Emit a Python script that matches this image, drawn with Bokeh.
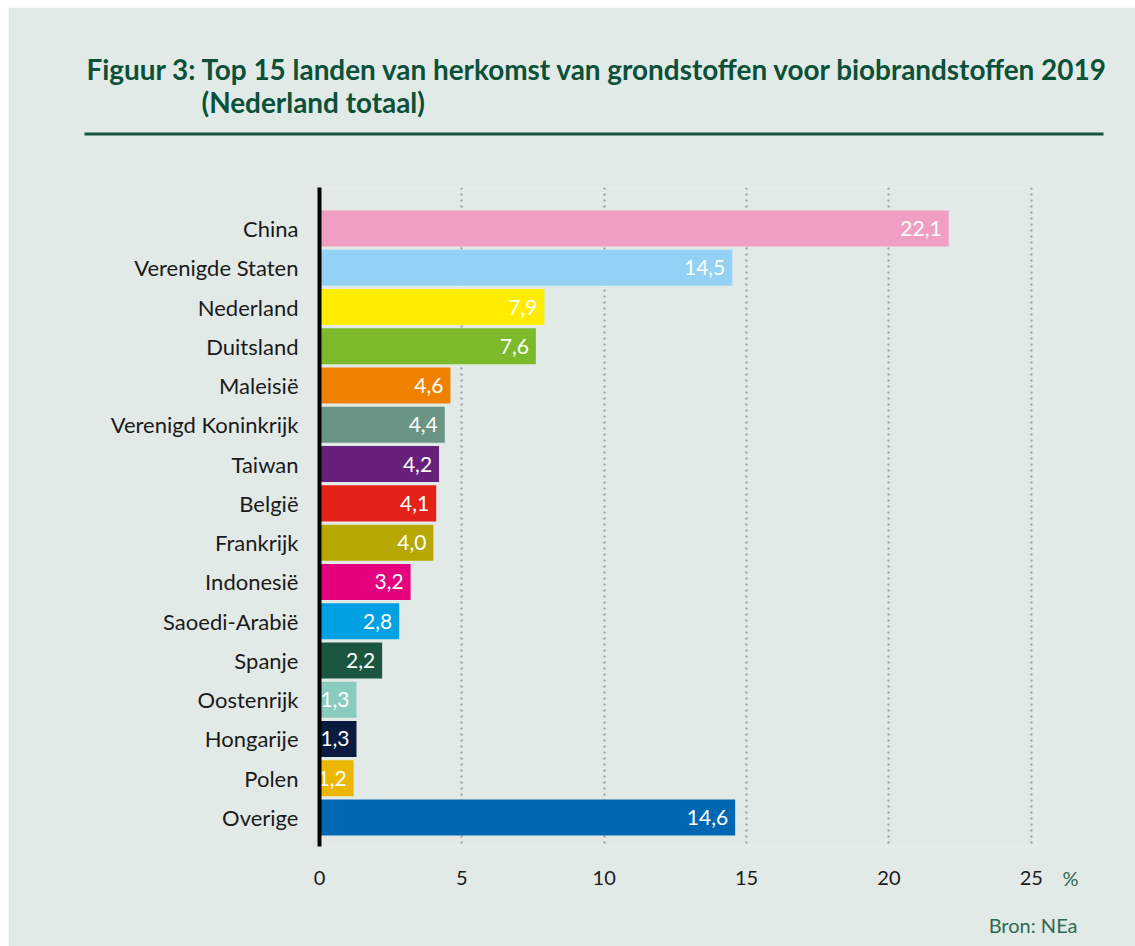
from bokeh.plotting import figure
from bokeh.models import ColumnDataSource, Range1d, FixedTicker
from bokeh.core.properties import value
from bokeh.embed import file_html
from bokeh.resources import INLINE

# ---- data ----
countries = ["China", "Verenigde Staten", "Nederland", "Duitsland", "Maleisië",
             "Verenigd Koninkrijk", "Taiwan", "België", "Frankrijk", "Indonesië",
             "Saoedi-Arabië", "Spanje", "Oostenrijk", "Hongarije", "Polen", "Overige"]
shares = [22.1, 14.5, 7.9, 7.6, 4.6, 4.4, 4.2, 4.1, 4.0, 3.2, 2.8, 2.2, 1.3, 1.3, 1.2, 14.6]
bar_colors = ["#f09ec4", "#93d2f4", "#ffed00", "#7cba2c", "#f08100", "#6a9584",
              "#68217b", "#e42218", "#b6a800", "#e5007e", "#00a0e2", "#1c5641",
              "#89cbbf", "#0a1b40", "#ecb700", "#0068b3"]
x_ticks = [0, 5, 10, 15, 20, 25]
title_lines = ["Figuur 3: Top 15 landen van herkomst van grondstoffen voor biobrandstoffen 2019",
               "(Nederland totaal)"]
unit_text = "%"
source_text = "Bron: NEa"

FONT = "Lato"
BG = "#e2eae7"
DARK_GREEN = "#0b5038"
SOFT_GREEN = "#2d6a54"

# plot frame placement on the page (pixels) and data ranges
X0, X1 = 0.0, 25.15
Y_BOTTOM, Y_TOP = 15.738, -1.044
FL, FR, FT, FB = 319, 1035, 187, 846
ML, MT = 8, 7  # white page margin around the figure


def dx(px):
    """page pixel x -> data x (for free-floating texts outside the frame)"""
    return X0 + (px - FL) * (X1 - X0) / (FR - FL)


def dy(py):
    """page pixel y -> data y"""
    return Y_TOP + (py - FT) * (Y_BOTTOM - Y_TOP) / (FB - FT)


positions = list(range(len(countries)))
source = ColumnDataSource(dict(
    y=positions,
    share=shares,
    color=bar_colors,
    label=[f"{v:.1f}".replace(".", ",") for v in shares],
))

p = figure(width=1135 - ML, height=946 - MT, output_backend="svg", toolbar_location=None,
           x_range=Range1d(X0, X1), y_range=Range1d(Y_BOTTOM, Y_TOP),
           min_border_left=FL - ML, min_border_right=1135 - FR, min_border_top=FT - MT,
           min_border_bottom=946 - FB, background_fill_color=BG, border_fill_color=BG,
           outline_line_color=None, margin=(MT, 0, 0, ML))

p.hbar(y="y", left=0, right="share", height=0.917, color="color", line_color=None,
       source=source)
p.text(x="share", y="y", text="label", source=source, x_offset=-7,
       text_align="right", text_baseline="middle", text_color="white",
       text_font=value(FONT), text_font_size="21px")

# ---- free texts outside the frame (overlay level so they are not clipped) ----
r = p.text(x=[dx(86), dx(201)], y=[dy(68.5), dy(101.5)], text=title_lines,
           text_font=value(FONT), text_font_style="bold", text_font_size="27.9px",
           text_color=DARK_GREEN, text_baseline="alphabetic", text_align="left")
r.level = "overlay"
r = p.quad(left=[dx(84)], right=[dx(1103)], top=[dy(132)], bottom=[dy(135)],
           color="#17543f", line_color=None)
r.level = "overlay"
r = p.text(x=[dx(1062)], y=[dy(877)], text=[unit_text], text_font=value(FONT),
           text_font_size="20px", text_color=SOFT_GREEN, text_baseline="middle",
           text_align="left")
r.level = "overlay"
r = p.text(x=[dx(1077)], y=[dy(924)], text=[source_text], text_font=value(FONT),
           text_font_size="20px", text_color=SOFT_GREEN, text_baseline="middle",
           text_align="right")
r.level = "overlay"

# x axis
p.xaxis.ticker = FixedTicker(ticks=x_ticks)
p.xaxis.axis_line_color = None
p.xaxis.major_tick_line_color = None
p.xaxis.minor_tick_line_color = None
p.xaxis.major_label_standoff = 18
p.xaxis.major_label_text_font = FONT
p.xaxis.major_label_text_font_size = "20px"
p.xaxis.major_label_text_color = "#1a1a1a"

# y axis
p.yaxis.ticker = FixedTicker(ticks=positions)
p.yaxis.major_label_overrides = {i: c for i, c in zip(positions, countries)}
p.yaxis.axis_line_width = 4
p.yaxis.axis_line_color = "black"
p.yaxis.major_tick_line_color = None
p.yaxis.minor_tick_line_color = None
p.yaxis.major_label_standoff = 15
p.yaxis.major_label_text_font = FONT
p.yaxis.major_label_text_font_size = "22px"
p.yaxis.major_label_text_color = "#1a1a1a"

p.ygrid.visible = False
p.xgrid.grid_line_color = "#9b9b9b"
p.xgrid.grid_line_width = 2
p.xgrid.grid_line_dash = "2 4"

open("out.html", "w").write(file_html(p, INLINE))
